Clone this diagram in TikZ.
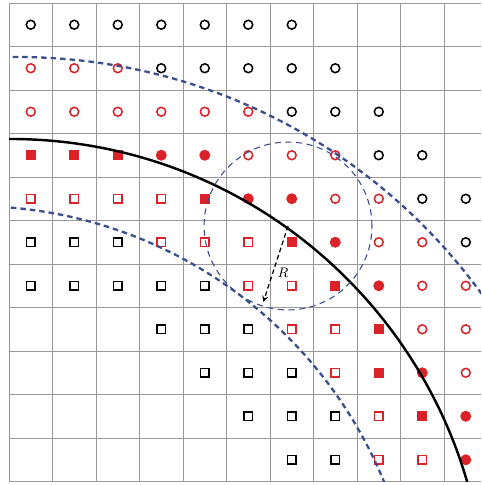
\documentclass[tikz,border=0pt]{standalone}
\usepackage{xcolor}
\usepackage{tikz}
\usetikzlibrary{arrows}

\definecolor{ptred}{RGB}{218,34,40}
\definecolor{arcblue}{RGB}{58,78,140}

\begin{document}
\begin{tikzpicture}[
  cell/.style={inner sep=0pt, outer sep=0pt},
  bc/.style={cell, circle, draw=black, line width=1pt, minimum size=5.8pt},
  ro/.style={bc, draw=ptred},
  rc/.style={cell, circle, fill=ptred, minimum size=7.2pt},
  bq/.style={cell, rectangle, draw=black, line width=1pt, minimum size=5.4pt},
  rq/.style={bq, draw=ptred},
  rs/.style={cell, rectangle, fill=ptred, minimum size=6.6pt},
  front/.style={line width=1.6pt, black},
  offset/.style={line width=1.5pt, arcblue, dash pattern=on 3.6pt off 2.6pt},
  probe/.style={circle, draw=arcblue, line width=0.7pt, dash pattern=on 4pt off 3pt, minimum size=3.86cm, inner sep=0pt},
  ptr/.style={->, >=stealth, thick, dash pattern=on 3pt off 2pt}
]
\useasboundingbox (-0.207,-0.080) rectangle (10.851,11.069);
\draw[black!40, line width=0.6pt] (0,0) grid (10.851,11);

% row/first col/last col/kind
\foreach \r/\a/\b/\s in {0/0/6/bc,
    1/0/2/ro, 1/3/7/bc,
    2/0/5/ro, 2/6/8/bc,
    3/0/2/rs, 3/3/4/rc, 3/5/7/ro, 3/8/9/bc,
    4/0/3/rq, 4/4/4/rs, 4/5/6/rc, 4/7/8/ro, 4/9/10/bc,
    5/0/2/bq, 5/3/5/rq, 5/6/6/rs, 5/7/7/rc, 5/8/9/ro, 5/10/10/bc,
    6/0/4/bq, 6/5/6/rq, 6/7/7/rs, 6/8/8/rc, 6/9/10/ro,
    7/3/5/bq, 7/6/7/rq, 7/8/8/rs, 7/9/10/ro,
    8/4/6/bq, 8/7/7/rq, 8/8/8/rs, 8/9/9/rc, 8/10/10/ro,
    9/5/7/bq, 9/8/8/rq, 9/9/9/rs, 9/10/10/rc,
    10/6/7/bq, 10/8/9/rq, 10/10/10/rc}
  \foreach \c in {\a,...,\b}
    \node[\s] (p\r-\c) at (\c+0.5,10.5-\r) {};

\begin{scope}
\clip (0,0) rectangle (10.851,11);
\draw[front] (0.023,-3.069) circle (10.943);
\draw[offset] (0.184,-3.437) circle (13.195);
\draw[offset] (-0.828,-3.874) circle (10.207);
\end{scope}

\node[probe] (nbhd) at (6.414,5.874) {};
\draw[ptr, shorten >=3pt] (nbhd.center) -- (nbhd.252);
\node[font=\small] (rlbl) at (6.30,4.79) {$R$};
\end{tikzpicture}
\end{document}
